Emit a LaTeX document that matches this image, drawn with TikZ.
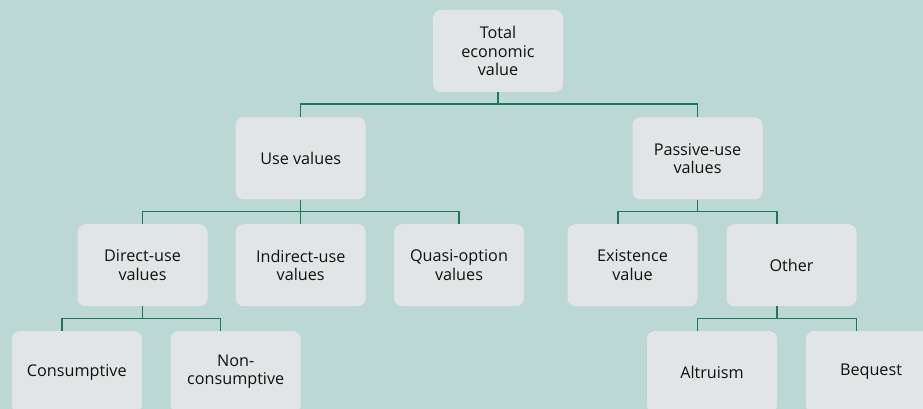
\documentclass[tikz,border=0pt]{standalone}
\usepackage{fontspec}
\setmainfont{Open Sans}
\definecolor{bg}{HTML}{BCD8D4}
\definecolor{boxfill}{HTML}{E1E5E6}
\definecolor{lineg}{HTML}{1C7858}
\definecolor{txt}{HTML}{111111}
\begin{document}
\begin{tikzpicture}[x=1pt,y=-1pt,
  vbox/.style={rectangle, rounded corners=8pt, fill=boxfill, draw=none,
    minimum width=130pt, minimum height=82pt, inner sep=0pt,
    align=center, text=txt, font=\fontsize{16.2}{18.3}\selectfont},
  conn/.style={draw=lineg, line width=1.4pt}]
\fill[bg] (0,0) rectangle (923,409);
\useasboundingbox (0,0) rectangle (923,409);
\clip (0,0) rectangle (923,409);
% levels of the connector bars
\coordinate (b1) at (0,104);
\coordinate (b2) at (0,211.7);
\coordinate (b3) at (0,318.3);
% boxes
\node[vbox] (top) at (498,51) {Total\\economic\\value};
\node[vbox] (use) at (300.7,158.3) {Use values};
\node[vbox] (passive) at (697.5,158.3) {Passive-use\\values};
\node[vbox] (direct) at (142.5,265.2) {Direct-use\\values};
\node[vbox] (indirect) at (300.7,265.2) {Indirect-use\\values};
\node[vbox] (quasi) at (459,265.2) {Quasi-option\\values};
\node[vbox] (exist) at (632.5,265.2) {Existence\\value};
\node[vbox] (other) at (791.5,265.2) {Other};
\node[vbox] (cons) at (76.8,372) {Consumptive};
\node[vbox] (noncons) at (235.7,372) {Non-\\consumptive};
\node[vbox] (altru) at (712,372) {Altruism};
\node[vbox] (beq) at (871,372) {Bequest};
% connectors
\draw[conn] (top.south) -- (top.south |- b1);
\draw[conn] (use.north) |- (top.south |- b1) -| (passive.north);
\draw[conn] (use.south) -- (indirect.north);
\draw[conn] (direct.north) |- (indirect.north |- b2) -| (quasi.north);
\draw[conn] (passive.south) -- (passive.south |- b2);
\draw[conn] ([xshift=-14.5pt]exist.north) |- (passive.south |- b2) -| ([xshift=-14.5pt]other.north);
\draw[conn] (direct.south) -- (direct.south |- b3);
\draw[conn] ([xshift=-15pt]cons.north) |- (direct.south |- b3) -| ([xshift=-15pt]noncons.north);
\draw[conn] ([xshift=-14.5pt]other.south) -- ([xshift=-14.5pt]other.south |- b3);
\draw[conn] ([xshift=-14.5pt]altru.north) |- ([xshift=-14.5pt]other.south |- b3) -| ([xshift=-14.5pt]beq.north);
\end{tikzpicture}
\end{document}
